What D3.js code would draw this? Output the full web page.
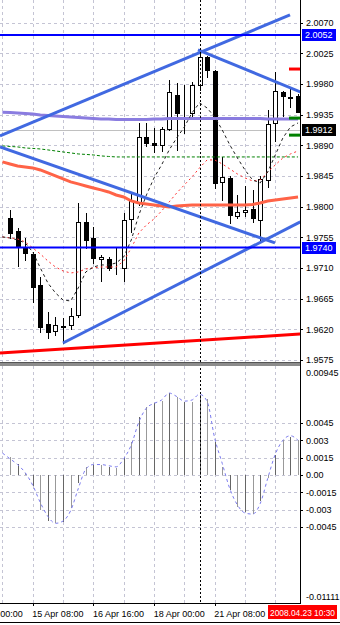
<!DOCTYPE html>
<html lang="en">
<head>
<meta charset="UTF-8">
<title>GBPUSD H4</title>
<script src="https://d3js.org/d3.v7.min.js"></script>
<style>
  body { margin: 0; background: #fff; }
  text { font-family: "Liberation Sans", Arial, sans-serif; font-size: 9px; fill: #000; }
  .grid line { stroke: #c4c4d4; stroke-dasharray: 3,3; shape-rendering: crispEdges; }
  .axis .domain { display: none; }
  .axis line { stroke: #000; shape-rendering: crispEdges; }
</style>
</head>
<body>
<svg id="chart" width="340" height="625"></svg>
<script>
// H4 bars, index 0 = 14 Apr 20:00
const opens  = [1.9783,1.9764,1.9741,1.9731,1.9685,1.9628,1.9618,1.9625,1.9626,1.9641,1.9778,1.9754,1.9723,1.9723,1.9712,1.9710,1.9782,1.9805,1.9902,1.9894,1.9891,1.9914,1.9964,1.9938,1.9938,1.9979,2.0020,1.9999,1.9836,1.9842,1.9786,1.9792,1.9797,1.9781,1.9839,1.9923,1.9968,1.9961,1.9963];
const highs  = [1.9795,1.9769,1.9754,1.9734,1.9697,1.9645,1.9638,1.9637,1.9651,1.9805,1.9791,1.9770,1.9729,1.9726,1.9739,1.9791,1.9820,1.9923,1.9923,1.9916,1.9917,1.9986,1.9982,1.9979,1.9983,2.0030,2.0021,2.0001,1.9873,1.9845,1.9817,1.9830,1.9825,1.9845,1.9942,1.9998,1.9970,1.9973,1.9966];
const lows   = [1.9754,1.9713,1.9722,1.9660,1.9616,1.9607,1.9612,1.9600,1.9621,1.9638,1.9739,1.9717,1.9691,1.9707,1.9701,1.9691,1.9763,1.9803,1.9889,1.9880,1.9882,1.9913,1.9883,1.9908,1.9929,1.9971,1.9990,1.9828,1.9810,1.9776,1.9783,1.9786,1.9778,1.9751,1.9829,1.9897,1.9933,1.9946,1.9939];
const closes = [1.9761,1.9741,1.9732,1.9682,1.9623,1.9616,1.9626,1.9623,1.9640,1.9778,1.9751,1.9725,1.9726,1.9710,1.9711,1.9781,1.9808,1.9902,1.9894,1.9891,1.9914,1.9968,1.9938,1.9937,1.9979,2.0020,2.0001,1.9835,1.9844,1.9788,1.9792,1.9795,1.9783,1.9841,1.9921,1.9970,1.9963,1.9960,1.9939];

// moving averages, index -1 .. 38
const maSlow   = [1.99386,1.99383,1.99376,1.99369,1.99361,1.99347,1.99339,1.99332,1.99325,1.99317,1.99310,1.99303,1.99295,1.99288,1.99288,1.99281,1.99281,1.99281,1.99281,1.99281,1.99288,1.99288,1.99295,1.99295,1.99295,1.99295,1.99295,1.99295,1.99295,1.99295,1.99295,1.99295,1.99295,1.99295,1.99295,1.99288,1.99288,1.99288,1.99288,1.99288];
const maMid    = [1.98657,1.98627,1.98598,1.98583,1.98569,1.98539,1.98495,1.98451,1.98407,1.98363,1.98334,1.98304,1.98275,1.98246,1.98216,1.98172,1.98143,1.98084,1.98055,1.98040,1.98025,1.98011,1.97996,1.98011,1.98018,1.98025,1.98025,1.98025,1.98025,1.98025,1.98025,1.98025,1.98025,1.98033,1.98055,1.98084,1.98099,1.98113,1.98128,1.98143];
const maGreen  = [1.98892,1.98884,1.98877,1.98862,1.98855,1.98847,1.98833,1.98818,1.98803,1.98789,1.98774,1.98767,1.98759,1.98745,1.98737,1.98730,1.98730,1.98730,1.98730,1.98730,1.98730,1.98730,1.98730,1.98730,1.98730,1.98730,1.98730,1.98730,1.98730,1.98730,1.98730,1.98730,1.98730,1.98730,1.98730,1.98730,1.98730,1.98730,1.98730,1.98730];
const maFast   = [1.97556,1.97541,1.97512,1.97468,1.97335,1.97101,1.96880,1.96734,1.96631,1.96616,1.96807,1.97042,1.97115,1.97145,1.97145,1.97174,1.97262,1.97512,1.97879,1.98172,1.98422,1.98613,1.98833,1.99009,1.99170,1.99376,1.99523,1.99449,1.99317,1.99126,1.98906,1.98715,1.98539,1.98392,1.98348,1.98510,1.98759,1.99009,1.99170,1.99229];
const maDotted = [1.97556,1.97541,1.97526,1.97482,1.97394,1.97306,1.97203,1.97115,1.97057,1.97027,1.97042,1.97086,1.97101,1.97115,1.97115,1.97115,1.97203,1.97394,1.97614,1.97732,1.97820,1.97937,1.98069,1.98202,1.98319,1.98436,1.98569,1.98686,1.98686,1.98627,1.98554,1.98480,1.98422,1.98378,1.98392,1.98510,1.98613,1.98715,1.98774,1.98818];

// trend lines drawn on the chart: [barIndex, price] pairs
const trendLines = [
  {pts: [[-1.32, 1.99038], [36.94, 2.00815]], color: "#4169e1", w: 3},
  {pts: [[24.8, 2.00301], [38.3, 1.99684]], color: "#4169e1", w: 3},
  {pts: [[-1.32, 1.98877], [34.96, 1.97468]], color: "#4169e1", w: 3},
  {pts: [[6.99, 1.96000], [38.3, 1.97776]], color: "#4169e1", w: 3},
  {pts: [[-1.32, 1.95853], [38.3, 1.96132]], color: "#ff0000", w: 3}
];
const hLevels = [2.0052, 1.9740];
const bidPrice = 1.9912;
const redMarks = [2.0002];
const greenMarks = [1.9930, 1.9905];
const cursorBar = 25;

// oscillator, index 0 .. 38 (histogram) and -1 .. 38 (signal)
const osc = [0.00156,0.00095,0.0002,-0.0010,-0.0030,-0.0040,-0.0042,-0.0041,-0.0029,-0.0007,0.0007,0.0009,0.0009,0.0007,0.0006,0.0015,0.0029,0.0050,0.0059,0.0062,0.0064,0.0071,0.0068,0.0063,0.0063,0.0069,0.0066,0.0029,0.0007,-0.0013,-0.0028,-0.0032,-0.0034,-0.0023,-0.0003,0.0017,0.0030,0.0033,0.0030];
const oscSignal = [0.0019,0.0014,0.0009,0.0002,-0.0009,-0.0024,-0.0036,-0.0042,-0.0040,-0.0031,-0.0012,0.0005,0.0009,0.0009,0.0008,0.0007,0.0014,0.0026,0.0046,0.0058,0.0062,0.0065,0.0071,0.0068,0.0064,0.0065,0.0070,0.0064,0.0032,0.0010,-0.0012,-0.0026,-0.0033,-0.0034,-0.0025,-0.0003,0.0018,0.0030,0.0034,0.0030];

const priceTicks = [2.0070,2.0025,1.9980,1.9935,1.9890,1.9845,1.9800,1.9755,1.9710,1.9665,1.9620,1.9575];
const oscTicks = [0.0045,0.003,0.0015,0,-0.0015,-0.003,-0.0045];
const oscTickLabels = ["0.0045","0.003","0.0015","0.00","-0.0015","-0.003","-0.0045"];
const oscMax = 0.00945, oscMin = -0.01111;
const timeIdx = [-5,3,11,19,27];
const timeLabels = ["14 Apr 00:00","15 Apr 08:00","16 Apr 16:00","18 Apr 00:00","21 Apr 08:00"];
const cursorTime = "2008.04.23 10:30";

const plotR = 300, upB = 362, loT = 366, loB = 603;
const svg = d3.select("#chart");

const x = d3.scaleLinear().domain([-1, 38]).range([2.42, 298.04]);
const y = d3.scaleLinear().domain([1.9575, 2.0070]).range([360, 22.7]);
const yo = d3.scaleLinear().domain([oscMin, oscMax]).range([loB, loT]);

const defs = svg.append("defs");
defs.append("clipPath").attr("id", "cu").append("rect").attr("x", 0).attr("y", 0).attr("width", plotR).attr("height", upB);
defs.append("clipPath").attr("id", "cl").append("rect").attr("x", 0).attr("y", loT).attr("width", plotR).attr("height", loB - loT);

// grids
const gridX = d3.range(-1, 39, 4);
const grid = svg.append("g").attr("class", "grid");
grid.selectAll(".gx").data(gridX).enter().append("line")
  .attr("x1", d => Math.round(x(d)) + 0.5).attr("x2", d => Math.round(x(d)) + 0.5)
  .attr("y1", 0).attr("y2", loB);
grid.selectAll(".gy").data(priceTicks).enter().append("line")
  .attr("x1", 0).attr("x2", plotR).attr("y1", d => Math.round(y(d)) + 0.5).attr("y2", d => Math.round(y(d)) + 0.5);
grid.selectAll(".go").data(oscTicks).enter().append("line")
  .attr("x1", 0).attr("x2", plotR).attr("y1", d => Math.round(yo(d)) + 0.5).attr("y2", d => Math.round(yo(d)) + 0.5);

const up = svg.append("g").attr("clip-path", "url(#cu)");

// bid line
up.append("line").attr("x1", 0).attr("x2", plotR)
  .attr("y1", Math.round(y(bidPrice)) + 0.5).attr("y2", Math.round(y(bidPrice)) + 0.5)
  .attr("stroke", "#c0c0c0").attr("shape-rendering", "crispEdges");

// candles
const bars = d3.range(opens.length);
const cg = up.append("g").attr("shape-rendering", "crispEdges");
cg.selectAll(".wick").data(bars).enter().append("line")
  .attr("x1", i => Math.round(x(i)) + 0.5).attr("x2", i => Math.round(x(i)) + 0.5)
  .attr("y1", i => Math.round(y(highs[i]))).attr("y2", i => Math.round(y(lows[i])) + 1)
  .attr("stroke", "#000");
cg.selectAll(".body").data(bars).enter().append("rect")
  .attr("x", i => Math.round(x(i)) - 1.5)
  .attr("y", i => Math.round(y(Math.max(opens[i], closes[i]))) + 0.5)
  .attr("width", 4)
  .attr("height", i => Math.max(0, Math.round(y(Math.min(opens[i], closes[i]))) - Math.round(y(Math.max(opens[i], closes[i])))))
  .attr("fill", i => closes[i] > opens[i] ? "#fff" : "#000")
  .attr("stroke", "#000");

// moving averages
const maIdx = d3.range(-1, 39);
const line = d3.line().x((d, k) => x(maIdx[k])).y(d => y(d));
up.append("path").datum(maSlow).attr("d", line).attr("fill", "none").attr("stroke", "#8a7ce0").attr("stroke-width", 3);
up.append("path").datum(maMid).attr("d", line).attr("fill", "none").attr("stroke", "#ff6347").attr("stroke-width", 3);
up.append("path").datum(maGreen).attr("d", line).attr("fill", "none").attr("stroke", "#008000").attr("stroke-dasharray", "3,2");
up.append("path").datum(maDotted).attr("d", line).attr("fill", "none").attr("stroke", "#ff3030").attr("stroke-dasharray", "2,3");
up.append("path").datum(maFast).attr("d", line).attr("fill", "none").attr("stroke", "#202020").attr("stroke-dasharray", "3,3");

// trend lines
const tl = d3.line().x(d => x(d[0])).y(d => y(d[1]));
up.selectAll(".tl").data(trendLines).enter().append("path")
  .attr("d", d => tl(d.pts)).attr("fill", "none")
  .attr("stroke", d => d.color).attr("stroke-width", d => d.w).attr("stroke-linecap", "butt");

// horizontal levels
up.selectAll(".hl").data(hLevels).enter().append("line")
  .attr("x1", 0).attr("x2", plotR).attr("y1", d => y(d)).attr("y2", d => y(d))
  .attr("stroke", "#0000ff").attr("stroke-width", 2);

// right edge markers
up.selectAll(".rm").data(redMarks).enter().append("line")
  .attr("x1", 289).attr("x2", plotR).attr("y1", d => y(d)).attr("y2", d => y(d))
  .attr("stroke", "#ff0000").attr("stroke-width", 3);
up.selectAll(".gm").data(greenMarks).enter().append("line")
  .attr("x1", 289).attr("x2", plotR).attr("y1", d => y(d)).attr("y2", d => y(d))
  .attr("stroke", "#008000").attr("stroke-width", 3);

// lower panel
const lo = svg.append("g").attr("clip-path", "url(#cl)");
lo.selectAll(".hb").data(osc).enter().append("line")
  .attr("x1", (d, i) => Math.round(x(i)) + 0.5).attr("x2", (d, i) => Math.round(x(i)) + 0.5)
  .attr("y1", Math.round(yo(0))).attr("y2", d => Math.round(yo(d)))
  .attr("stroke", (d, i) => i % 2 ? "#666" : "#999")
  .attr("shape-rendering", "crispEdges");
const sig = d3.line().curve(d3.curveMonotoneX).x((d, k) => x(maIdx[k])).y(d => yo(d));
lo.append("path").datum(oscSignal).attr("d", sig).attr("fill", "none")
  .attr("stroke", "#7b7bef").attr("stroke-dasharray", "3,3");

// cursor line
svg.append("line").attr("x1", Math.round(x(cursorBar)) + 0.5).attr("x2", Math.round(x(cursorBar)) + 0.5)
  .attr("y1", 0).attr("y2", loB).attr("stroke", "#000").attr("stroke-dasharray", "2,2")
  .attr("shape-rendering", "crispEdges");

// axes
svg.append("g").attr("class", "axis").attr("transform", `translate(${plotR},0)`)
  .call(d3.axisRight(y).tickValues(priceTicks).tickFormat(d3.format(".4f")).tickSize(3));
svg.append("g").attr("class", "axis").attr("transform", `translate(${plotR},0)`)
  .call(d3.axisRight(yo).tickValues(oscTicks).tickFormat((d, i) => oscTickLabels[i]).tickSize(3));
svg.append("text").attr("x", 306).attr("y", loT + 7).attr("dy", "0.32em").text(oscMax.toString());
svg.append("text").attr("x", 306).attr("y", loB - 6).attr("dy", "0.32em").text(oscMin.toString());

const xa = svg.append("g").attr("class", "axis").attr("transform", `translate(0,${loB})`)
  .call(d3.axisBottom(x).tickValues(timeIdx).tickFormat((d, i) => timeLabels[i]).tickSize(3));
xa.selectAll("text").attr("text-anchor", "start").attr("dx", "-0.1em").attr("y", 8);

// panel separator and frame
svg.append("rect").attr("x", 0).attr("y", upB).attr("width", plotR + 1).attr("height", 4).attr("fill", "#8c8c8c");
svg.append("line").attr("x1", 0).attr("x2", plotR + 1).attr("y1", upB + 0.5).attr("y2", upB + 0.5).attr("stroke", "#555");
svg.append("line").attr("x1", plotR + 0.5).attr("x2", plotR + 0.5).attr("y1", 0).attr("y2", loB + 1).attr("stroke", "#000");
svg.append("line").attr("x1", 0).attr("x2", plotR + 1).attr("y1", loB + 0.5).attr("y2", loB + 0.5).attr("stroke", "#000");
svg.append("line").attr("x1", 0).attr("x2", 340).attr("y1", 622.5).attr("y2", 622.5).attr("stroke", "#000");

// price labels
function tag(p, bg) {
  const g = svg.append("g").attr("transform", `translate(302,${Math.round(y(p))})`);
  g.append("rect").attr("x", 0).attr("y", -6).attr("width", 34).attr("height", 12).attr("fill", bg);
  g.append("text").attr("x", 3).attr("y", 0).attr("dy", "0.34em").style("fill", "#fff").text(d3.format(".4f")(p));
}
hLevels.forEach(p => tag(p, "#0000ff"));
tag(bidPrice, "#000");

// cursor time label
svg.append("rect").attr("x", 268).attr("y", 605).attr("width", 69).attr("height", 14).attr("fill", "#ff0000");
svg.append("text").attr("x", 270).attr("y", 615.5).style("fill", "#fff")
  .attr("textLength", 65).attr("lengthAdjust", "spacingAndGlyphs").text(cursorTime);
</script>
</body>
</html>
